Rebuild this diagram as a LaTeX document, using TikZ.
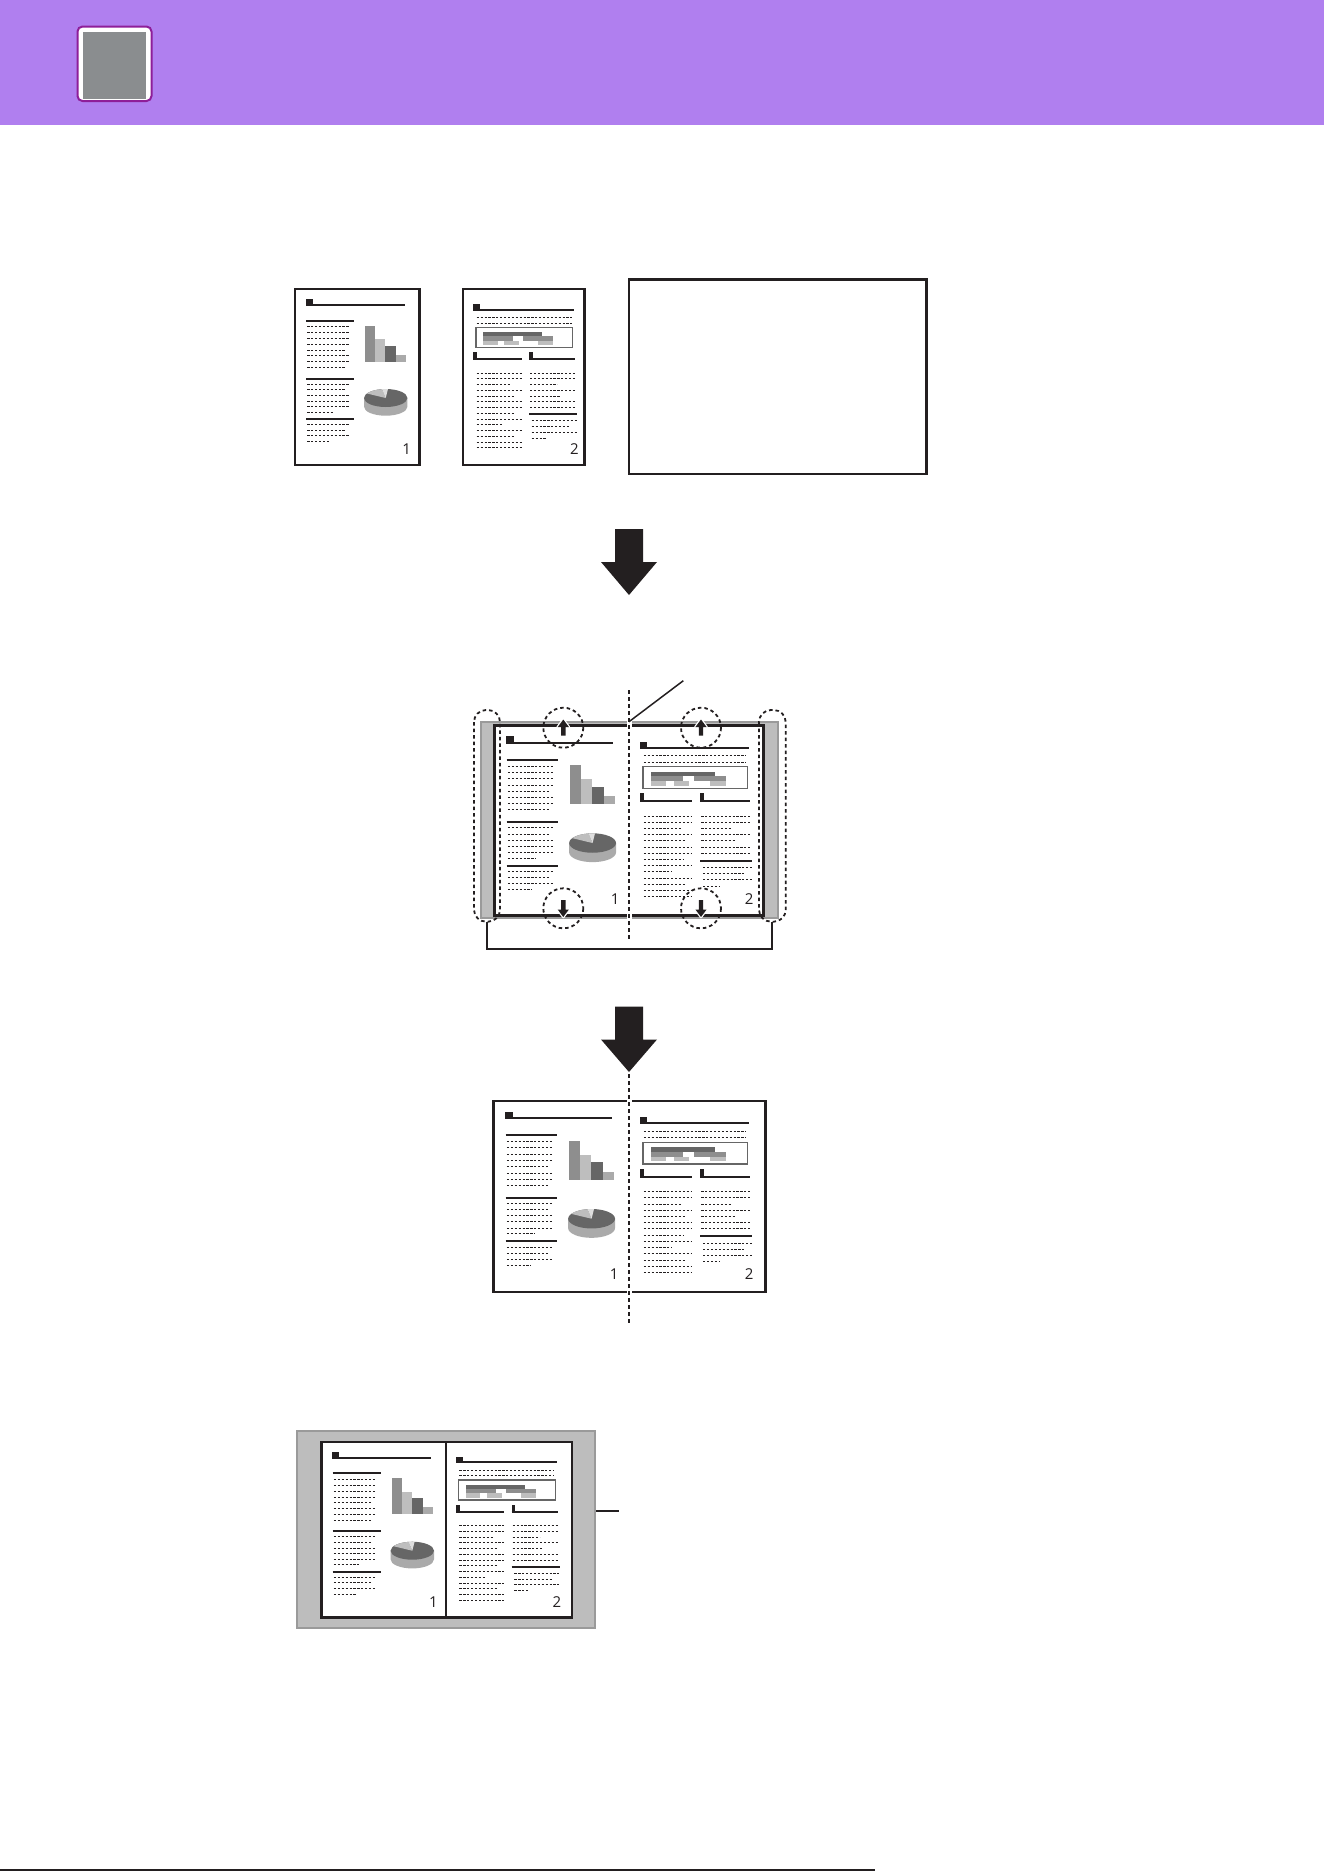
\documentclass[tikz,border=0pt]{standalone}
\usepackage{fontspec}
\setmainfont{Open Sans}
\usetikzlibrary{arrows.meta, calc}

\definecolor{hdrpurple}{RGB}{176,127,239}
\definecolor{iconrim}{RGB}{142,30,153}
\definecolor{icongray}{RGB}{138,141,143}
\definecolor{ink}{RGB}{35,31,32}
\definecolor{barA}{RGB}{142,142,142}
\definecolor{barB}{RGB}{190,190,190}
\definecolor{barC}{RGB}{102,102,102}
\definecolor{barD}{RGB}{170,170,170}
\definecolor{pielite}{RGB}{222,222,222}
\definecolor{stripgray}{RGB}{189,189,189}
\definecolor{stripedge}{RGB}{154,154,154}

% page with bar chart and pie chart
\newcommand{\docpageone}[1]{%
  \fill[ink] (11,10) rectangle (18,17);
  \draw[rule] (18,16) -- (110,16);
  \foreach \y in {31.7, 89.7, 130} {
    \draw[rule] (11.3,\y) -- (59.3,\y);
  }
  \foreach \y/\e in {37.7/55.3, 43.3/55.3, 49.3/54.3, 55.3/55.3, 61/51.3, 66.7/55.3, 72.7/55.3, 78.3/50.3,
                     95/55.3, 100.7/51.3, 106.3/55.3, 112/55.3, 117.7/55.3, 123/38,
                     135.3/55.3, 141/51.3, 146.7/55.3, 152.3/35.3} {
    \draw[dots] (12.6,\y) -- (\e,\y);
  }
  % bars
  \fill[barA] (70.3,36.7) rectangle (80.3,72.7);
  \fill[barB] (80.3,50) rectangle (90.3,72.7);
  \fill[barC] (90.3,56.7) rectangle (101.3,72.7);
  \fill[barD] (101.3,65.7) rectangle (111.3,72.7);
  % pie
  \fill[barD] (112.7,109) -- (112.7,117.7) arc[start angle=0, end angle=180, x radius=21.7, y radius=9] -- (69.3,109) -- cycle;
  \fill[barC] (91,109) ellipse[x radius=21.7, y radius=9];
  \fill[barB] (91,109) -- ++(-100:21.7 and 9) arc[start angle=-100, end angle=-150, x radius=21.7, y radius=9] -- cycle;
  \fill[pielite] (91,109) -- ++(-84:21.7 and 9) arc[start angle=-84, end angle=-100, x radius=21.7, y radius=9] -- cycle;
  \node[pagenum] (#1) at (112,160.5) {1};
}

% page with table and two columns
\newcommand{\docpagetwo}[1]{%
  \fill[ink] (10.3,15) rectangle (17,21.7);
  \draw[rule] (17,20.7) -- (111,20.7);
  \foreach \y in {28.3, 34} {
    \draw[dots] (13.7,\y) -- (108.7,\y);
  }
  \draw[barC, line width=1.1pt] (13,38.3) rectangle (109.7,58.3);
  \fill[barC] (20.3,43) rectangle (79.3,47.3);
  \fill[barA] (20.3,47.3) rectangle (50.3,51.7);
  \fill[barA] (60.3,47.3) rectangle (90,51.7);
  \foreach \a/\b in {20.3/34.7, 41.3/56, 75.3/90} {
    \fill[barB] (\a,51.7) rectangle (\b,56);
  }
  \foreach \a/\b in {10.3/58.7, 66/112} {
    \fill[ink] (\a,63) rectangle (\a+3.7,71.3);
    \draw[rule] (\a,70.3) -- (\b,70.3);
  }
  \foreach \e [count=\i from 0] in {58.7,58.7,48,58.7,52,58.7,58.7,51.3,58.7,39.7,58.7,52,58.7,58.7} {
    \draw[dots] (13.7,84+5.75*\i) -- (\e,84+5.75*\i);
  }
  \foreach \e [count=\i from 0] in {112,112,94.3,112,98,112,112} {
    \draw[dots] (67,84+5.75*\i) -- (\e,84+5.75*\i);
  }
  \draw[rule] (66,125.2) -- (114,125.2);
  \foreach \y/\e in {131.7/113.7, 137.3/107, 143/113.7, 149/84} {
    \draw[dots] (68.7,\y) -- (\e,\y);
  }
  \node[pagenum] (#1) at (111.3,160.5) {2};
}

\begin{document}
\begin{tikzpicture}[x=1pt, y=-1pt, >=Stealth,
    rule/.style={ink, line width=2pt},
    dots/.style={ink, line width=1pt, dash pattern=on 2.2pt off 1.7pt},
    pagenum/.style={inner sep=0pt, text=ink, font=\fontsize{15}{15}\selectfont},
    frame/.style={ink, line width=2.4pt},
    ring/.style={ink, line width=1.8pt, dash pattern=on 3.5pt off 3pt},
    cutline/.style={ink, line width=1.8pt, dash pattern=on 4pt off 3pt},
    halo/.style={white, line width=2.5pt, line join=round},
    bigarrow/.style={fill=ink}]
  \useasboundingbox (0,0) rectangle (1324,1872);

  % header band
  \fill[hdrpurple] (0,0) rectangle (1324,125);
  \draw[iconrim, fill=white, line width=2pt, rounded corners=5pt] (77.5,26.5) rectangle (151.5,101);
  \fill[icongray] (83,31.5) rectangle (146,98.5);

  % originals
  \draw[frame, fill=white] (294.7,289) rectangle (419.3,464.7);
  \begin{scope}[shift={(294.7,289)}]
    \docpageone{numA}
  \end{scope}
  \draw[frame, fill=white] (463,289) rectangle (584.3,464.7);
  \begin{scope}[shift={(463,289)}]
    \docpagetwo{numB}
  \end{scope}
  \draw[frame] (629,279.5) rectangle (926.5,474);

  \fill[bigarrow] (615,529) -- (643,529) -- (643,562) -- (657,562) -- (629,595) -- (601,562) -- (615,562) -- cycle;

  % open book
  \draw[stripedge, fill=stripgray, line width=2pt] (480.7,722) rectangle (778.3,918);
  \draw[frame, fill=white] (494.3,725.3) rectangle (763.3,915.5);
  \begin{scope}[shift={(494.3,725.3)}, scale=1.08]
    \docpageone{numC}
  \end{scope}
  \begin{scope}[shift={(629,725.3)}, scale=1.08]
    \docpagetwo{numD}
  \end{scope}
  \draw[white, line width=5pt] (629,718) -- (629,922);
  \draw[cutline] (629,690) -- (629,941);
  \coordinate (spine) at (629,721.7);
  \coordinate (spinetip) at (683.3,680.7);
  \draw[ink, line width=1.5pt] (spine) -- (spinetip);

  \foreach \x in {563.3, 701} {
    % push-up marks
    \filldraw[halo] (\x-2.2,735.5) -- (\x-2.2,727) -- (\x-5.6,727) -- (\x,719.5) -- (\x+5.6,727) -- (\x+2.2,727) -- (\x+2.2,735.5) -- cycle;
    \fill[ink] (\x-2.2,735.5) -- (\x-2.2,727) -- (\x-5.6,727) -- (\x,719.5) -- (\x+5.6,727) -- (\x+2.2,727) -- (\x+2.2,735.5) -- cycle;
    % push-down marks
    \filldraw[halo] (\x-2.2,900.2) -- (\x-2.2,909.5) -- (\x-5.6,909.5) -- (\x,917) -- (\x+5.6,909.5) -- (\x+2.2,909.5) -- (\x+2.2,900.2) -- cycle;
    \fill[ink] (\x-2.2,900.2) -- (\x-2.2,909.5) -- (\x-5.6,909.5) -- (\x,917) -- (\x+5.6,909.5) -- (\x+2.2,909.5) -- (\x+2.2,900.2) -- cycle;
    \draw[ring] (\x,727.7) circle[radius=20];
    \draw[ring] (\x,908.3) circle[radius=20];
  }
  \draw[ring, rounded corners=12pt] (474,710) rectangle (500,921.7);
  \draw[ring, rounded corners=12pt] (759,710) rectangle (785.7,921.7);
  \draw[ink, line width=2pt] (486.7,921.7) -- (486.7,949.3) -- (772.3,949.3) -- (772.3,921.7);

  \fill[bigarrow] (615,1006.5) -- (643,1006.5) -- (643,1039.5) -- (657,1039.5) -- (629,1072) -- (601,1039.5) -- (615,1039.5) -- cycle;

  % trimmed book
  \draw[frame, fill=white] (493.3,1101) rectangle (765.3,1291.7);
  \begin{scope}[shift={(493.3,1101)}, scale=1.08]
    \docpageone{numE}
  \end{scope}
  \begin{scope}[shift={(629,1101)}, scale=1.08]
    \docpagetwo{numF}
  \end{scope}
  \draw[white, line width=5pt] (629,1097) -- (629,1296);
  \draw[cutline] (629,1074) -- (629,1323);

  % result sheet
  \draw[stripedge, fill=stripgray, line width=2pt] (297.3,1431) rectangle (595,1628.3);
  \draw[frame, fill=white] (321.3,1441.7) rectangle (572,1617.3);
  \draw[frame] (445.7,1441.7) -- (445.7,1617.3);
  \begin{scope}[shift={(321.3,1441.7)}]
    \docpageone{numG}
  \end{scope}
  \begin{scope}[shift={(445.7,1441.7)}]
    \docpagetwo{numH}
  \end{scope}
  \coordinate (sheet) at (596,1511);
  \coordinate (sheettip) at (619,1511);
  \draw[ink, line width=2pt] (sheet) -- (sheettip);

  % footer rule
  \draw[ink, line width=2pt] (0,1870) -- (875,1870);
\end{tikzpicture}
\end{document}
